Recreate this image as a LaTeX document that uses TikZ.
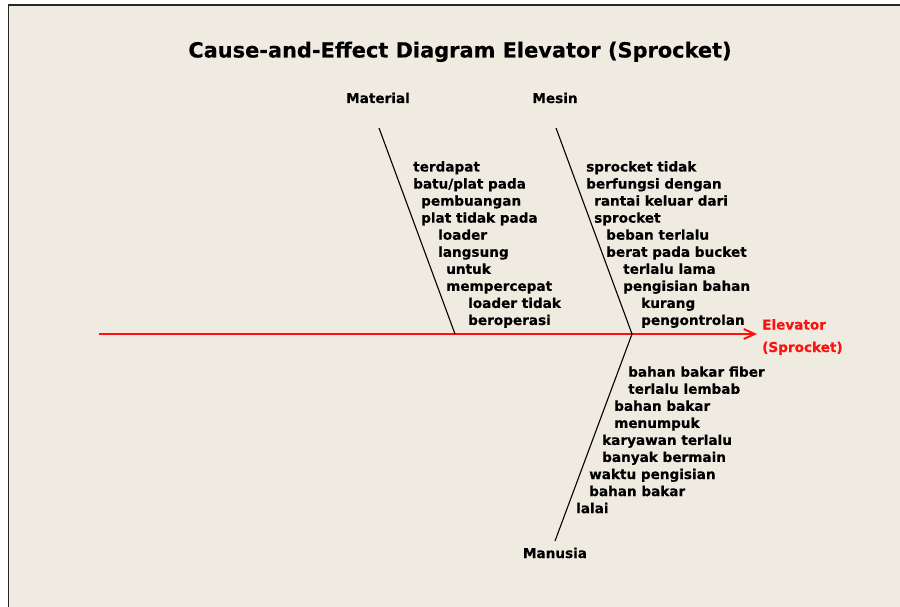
\documentclass[tikz,border=0pt]{standalone}
\usepackage{fontspec}
\setmainfont{DejaVu Sans}[BoldFeatures={FakeBold=0.4}]
\usetikzlibrary{arrows.meta}

\definecolor{paper}{HTML}{EFEBE1}
\definecolor{effectred}{HTML}{FF1010}

\tikzset{
  cause/.style={anchor=base west, inner sep=0pt, font=\bfseries\fontsize{13.6}{16}\selectfont},
  category/.style={anchor=base, inner sep=0pt, font=\bfseries\fontsize{13.6}{16}\selectfont},
  bone/.style={line width=1.1pt},
}

\begin{document}
\begin{tikzpicture}[x=1pt,y=-1pt]
    \def\gap{17.05} % spacing between the lines of the causes
    \def\topBase{171.5} % baseline of the first cause above the spine
    \def\lowBase{376.7} % baseline of the first cause below the spine

    \useasboundingbox (0,0) rectangle (900,607);
    \fill[white] (0,0) rectangle (900,607);
    \fill[paper] (8.5,5) rectangle (900,607);
    \draw[line width=1.5pt, black!85] (8.5,607) -- (8.5,5) -- (900,5);

    \node[anchor=base, inner sep=0pt, font=\bfseries\fontsize{20.9}{24}\selectfont] (title) at (460,57.5) {Cause-and-Effect Diagram Elevator (Sprocket)};

    % spine
    \coordinate (tail) at (99,334);
    \coordinate (head) at (757,334);
    \coordinate (matFoot) at (455,334);
    \coordinate (mesFoot) at (632,334);
    \draw[effectred, line width=1.9pt, -{Straight Barb[length=11pt,width=10pt]}] (tail) -- (head);
    \node[cause, text=effectred] (effect1) at (762,329.5) {Elevator};
    \node[cause, text=effectred] (effect2) at (762,352) {(Sprocket)};

    % bones
    \node[category] (material) at (378,103) {Material};
    \node[category] (mesin) at (555,103) {Mesin};
    \node[category] (manusia) at (555,558) {Manusia};
    \coordinate (matTop) at (379,128);
    \coordinate (mesTop) at (556,128);
    \coordinate (manBottom) at (555,541);
    \draw[bone] (matTop) -- (matFoot);
    \draw[bone] (mesTop) -- (mesFoot);
    \draw[bone] (mesFoot) -- (manBottom);

    % causes
    \foreach \x/\i/\txt [count=\n] in {413/0/terdapat, 413/1/{batu/plat pada}, 421/2/pembuangan, 421/3/plat tidak pada,
        438/4/loader, 438/5/langsung, 446/6/untuk, 446/7/mempercepat, 468/8/loader tidak, 468/9/beroperasi} {
        \node[cause] (mat\n) at (\x, {\topBase + \i*\gap}) {\txt};
    }
    \foreach \x/\i/\txt [count=\n] in {586/0/sprocket tidak, 586/1/berfungsi dengan, 594/2/rantai keluar dari, 594/3/sprocket,
        606/4/beban terlalu, 606/5/berat pada bucket, 623/6/terlalu lama, 623/7/pengisian bahan, 641/8/kurang, 641/9/pengontrolan} {
        \node[cause] (mes\n) at (\x, {\topBase + \i*\gap}) {\txt};
    }
    \foreach \x/\i/\txt [count=\n] in {628/0/bahan bakar fiber, 628/1/terlalu lembab, 614/2/bahan bakar, 614/3/menumpuk,
        602/4/karyawan terlalu, 602/5/banyak bermain, 589/6/waktu pengisian, 589/7/bahan bakar, 576/8/lalai} {
        \node[cause] (man\n) at (\x, {\lowBase + \i*\gap}) {\txt};
    }

\end{tikzpicture}
\end{document}
